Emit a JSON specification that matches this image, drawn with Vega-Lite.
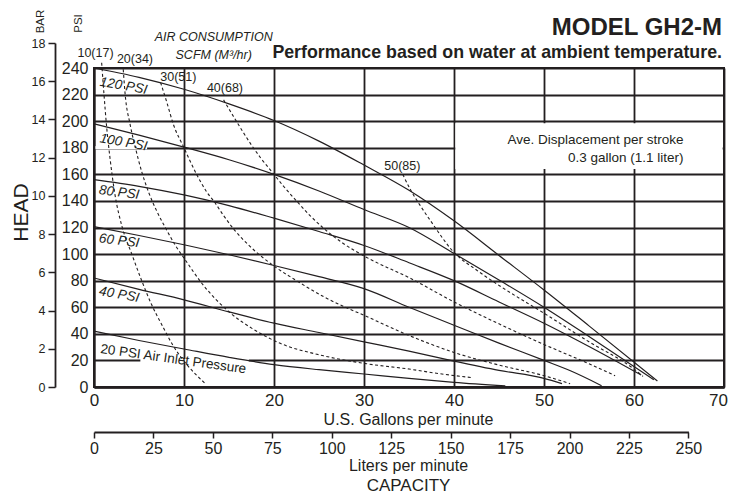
{
  "$schema": "https://vega.github.io/schema/vega-lite/v6.json",
  "width": 630,
  "height": 319,
  "autosize": {"type": "none"},
  "padding": {"left": 94, "top": 68, "right": 8, "bottom": 110},
  "background": "white",
  "title": {
    "text": "MODEL GH2-M",
    "subtitle": "Performance based on water at ambient temperature.",
    "anchor": "end",
    "frame": "group",
    "font": "Liberation Sans",
    "fontSize": 24,
    "fontWeight": "bold",
    "color": "#231f20",
    "subtitleFont": "Liberation Sans",
    "subtitleFontSize": 17.8,
    "subtitleFontWeight": "bold",
    "subtitleColor": "#231f20",
    "subtitlePadding": 4,
    "offset": -53,
    "dx": -2
  },
  "datasets": {
    "performance": [
      {"series": "120 PSI", "gpm": 0, "psi": 240},
      {"series": "120 PSI", "gpm": 5, "psi": 233},
      {"series": "120 PSI", "gpm": 10, "psi": 224},
      {"series": "120 PSI", "gpm": 15, "psi": 213},
      {"series": "120 PSI", "gpm": 20, "psi": 200.5},
      {"series": "120 PSI", "gpm": 25, "psi": 185},
      {"series": "120 PSI", "gpm": 30, "psi": 167},
      {"series": "120 PSI", "gpm": 35, "psi": 148},
      {"series": "120 PSI", "gpm": 40, "psi": 125},
      {"series": "120 PSI", "gpm": 45, "psi": 99},
      {"series": "120 PSI", "gpm": 50, "psi": 73},
      {"series": "120 PSI", "gpm": 55, "psi": 46},
      {"series": "120 PSI", "gpm": 62.6, "psi": 4.5},
      {"series": "100 PSI", "gpm": 0, "psi": 198},
      {"series": "100 PSI", "gpm": 5, "psi": 189.5},
      {"series": "100 PSI", "gpm": 10, "psi": 180.5},
      {"series": "100 PSI", "gpm": 15, "psi": 171},
      {"series": "100 PSI", "gpm": 20, "psi": 160},
      {"series": "100 PSI", "gpm": 25, "psi": 147.5},
      {"series": "100 PSI", "gpm": 30, "psi": 133.5},
      {"series": "100 PSI", "gpm": 35, "psi": 120},
      {"series": "100 PSI", "gpm": 40, "psi": 100.5},
      {"series": "100 PSI", "gpm": 45, "psi": 80.5},
      {"series": "100 PSI", "gpm": 50, "psi": 60},
      {"series": "100 PSI", "gpm": 55, "psi": 38},
      {"series": "100 PSI", "gpm": 62.2, "psi": 5.5},
      {"series": "80 PSI", "gpm": 0, "psi": 156},
      {"series": "80 PSI", "gpm": 5, "psi": 151},
      {"series": "80 PSI", "gpm": 10, "psi": 144.5},
      {"series": "80 PSI", "gpm": 15, "psi": 136.5},
      {"series": "80 PSI", "gpm": 20, "psi": 127},
      {"series": "80 PSI", "gpm": 25, "psi": 117},
      {"series": "80 PSI", "gpm": 30, "psi": 106.5},
      {"series": "80 PSI", "gpm": 35, "psi": 93.5},
      {"series": "80 PSI", "gpm": 40, "psi": 80},
      {"series": "80 PSI", "gpm": 45, "psi": 64},
      {"series": "80 PSI", "gpm": 50, "psi": 48},
      {"series": "80 PSI", "gpm": 55, "psi": 30.5},
      {"series": "80 PSI", "gpm": 60.8, "psi": 9},
      {"series": "60 PSI", "gpm": 0, "psi": 120.6},
      {"series": "60 PSI", "gpm": 5, "psi": 114},
      {"series": "60 PSI", "gpm": 10, "psi": 107},
      {"series": "60 PSI", "gpm": 15, "psi": 99.5},
      {"series": "60 PSI", "gpm": 20, "psi": 91.4},
      {"series": "60 PSI", "gpm": 25, "psi": 83},
      {"series": "60 PSI", "gpm": 30, "psi": 74},
      {"series": "60 PSI", "gpm": 35, "psi": 60},
      {"series": "60 PSI", "gpm": 40, "psi": 46.5},
      {"series": "60 PSI", "gpm": 45, "psi": 33},
      {"series": "60 PSI", "gpm": 50, "psi": 20},
      {"series": "60 PSI", "gpm": 53, "psi": 12},
      {"series": "60 PSI", "gpm": 56.4, "psi": 1},
      {"series": "40 PSI", "gpm": 0, "psi": 82},
      {"series": "40 PSI", "gpm": 5, "psi": 73.5},
      {"series": "40 PSI", "gpm": 10, "psi": 65.6},
      {"series": "40 PSI", "gpm": 15, "psi": 56.5},
      {"series": "40 PSI", "gpm": 20, "psi": 48},
      {"series": "40 PSI", "gpm": 25, "psi": 41},
      {"series": "40 PSI", "gpm": 30, "psi": 34},
      {"series": "40 PSI", "gpm": 35, "psi": 27},
      {"series": "40 PSI", "gpm": 40, "psi": 19.5},
      {"series": "40 PSI", "gpm": 45, "psi": 12.5},
      {"series": "40 PSI", "gpm": 50, "psi": 6.5},
      {"series": "40 PSI", "gpm": 52, "psi": 2.5},
      {"series": "20 PSI", "gpm": 0, "psi": 42},
      {"series": "20 PSI", "gpm": 5, "psi": 35},
      {"series": "20 PSI", "gpm": 10, "psi": 28.6},
      {"series": "20 PSI", "gpm": 15, "psi": 22.3},
      {"series": "20 PSI", "gpm": 20, "psi": 16.8},
      {"series": "20 PSI", "gpm": 25, "psi": 13},
      {"series": "20 PSI", "gpm": 30, "psi": 9.8},
      {"series": "20 PSI", "gpm": 35, "psi": 6.5},
      {"series": "20 PSI", "gpm": 40, "psi": 3.5},
      {"series": "20 PSI", "gpm": 45.7, "psi": 0.8}
    ],
    "air": [
      {"series": "10(17)", "gpm": 0.85, "psi": 244},
      {"series": "10(17)", "gpm": 1.1, "psi": 221},
      {"series": "10(17)", "gpm": 1.4, "psi": 196},
      {"series": "10(17)", "gpm": 1.8, "psi": 171},
      {"series": "10(17)", "gpm": 2.3, "psi": 146},
      {"series": "10(17)", "gpm": 3.1, "psi": 121},
      {"series": "10(17)", "gpm": 4.2, "psi": 100},
      {"series": "10(17)", "gpm": 5.3, "psi": 80},
      {"series": "10(17)", "gpm": 6.4, "psi": 62},
      {"series": "10(17)", "gpm": 7.6, "psi": 46},
      {"series": "10(17)", "gpm": 8.8, "psi": 31},
      {"series": "10(17)", "gpm": 10.3, "psi": 17},
      {"series": "10(17)", "gpm": 12.3, "psi": 3},
      {"series": "20(34)", "gpm": 3.25, "psi": 239},
      {"series": "20(34)", "gpm": 3.45, "psi": 221},
      {"series": "20(34)", "gpm": 4.0, "psi": 198},
      {"series": "20(34)", "gpm": 4.6, "psi": 180},
      {"series": "20(34)", "gpm": 5.3, "psi": 162},
      {"series": "20(34)", "gpm": 6.1, "psi": 146},
      {"series": "20(34)", "gpm": 7.0, "psi": 132},
      {"series": "20(34)", "gpm": 8.0, "psi": 119},
      {"series": "20(34)", "gpm": 9.0, "psi": 107},
      {"series": "20(34)", "gpm": 10.0, "psi": 97},
      {"series": "20(34)", "gpm": 12.1, "psi": 77},
      {"series": "20(34)", "gpm": 15.1, "psi": 56},
      {"series": "20(34)", "gpm": 17.7, "psi": 43.5},
      {"series": "20(34)", "gpm": 20.3, "psi": 34},
      {"series": "20(34)", "gpm": 25.5, "psi": 23.5},
      {"series": "20(34)", "gpm": 30.3, "psi": 17.5},
      {"series": "20(34)", "gpm": 35, "psi": 13.5},
      {"series": "20(34)", "gpm": 38.4, "psi": 10},
      {"series": "20(34)", "gpm": 42.1, "psi": 7},
      {"series": "30(51)", "gpm": 7.4, "psi": 229},
      {"series": "30(51)", "gpm": 8.1, "psi": 214},
      {"series": "30(51)", "gpm": 8.8, "psi": 198},
      {"series": "30(51)", "gpm": 10, "psi": 180},
      {"series": "30(51)", "gpm": 11.4, "psi": 160},
      {"series": "30(51)", "gpm": 12.5, "psi": 147},
      {"series": "30(51)", "gpm": 13.4, "psi": 139},
      {"series": "30(51)", "gpm": 14.4, "psi": 129},
      {"series": "30(51)", "gpm": 15.5, "psi": 119},
      {"series": "30(51)", "gpm": 17.3, "psi": 106},
      {"series": "30(51)", "gpm": 20, "psi": 91},
      {"series": "30(51)", "gpm": 22.5, "psi": 80},
      {"series": "30(51)", "gpm": 25.5, "psi": 68},
      {"series": "30(51)", "gpm": 30.3, "psi": 53},
      {"series": "30(51)", "gpm": 35.1, "psi": 38.5},
      {"series": "30(51)", "gpm": 40, "psi": 26},
      {"series": "30(51)", "gpm": 45, "psi": 16.5},
      {"series": "30(51)", "gpm": 50, "psi": 8.5},
      {"series": "30(51)", "gpm": 52.9, "psi": 2.5},
      {"series": "40(68)", "gpm": 14.4, "psi": 216},
      {"series": "40(68)", "gpm": 15.5, "psi": 203.5},
      {"series": "40(68)", "gpm": 16.5, "psi": 192.5},
      {"series": "40(68)", "gpm": 17.5, "psi": 182},
      {"series": "40(68)", "gpm": 18.5, "psi": 172.5},
      {"series": "40(68)", "gpm": 20, "psi": 160},
      {"series": "40(68)", "gpm": 21, "psi": 151.5},
      {"series": "40(68)", "gpm": 22.5, "psi": 140},
      {"series": "40(68)", "gpm": 24, "psi": 129},
      {"series": "40(68)", "gpm": 25.5, "psi": 119.5},
      {"series": "40(68)", "gpm": 27.7, "psi": 108},
      {"series": "40(68)", "gpm": 30.3, "psi": 97.5},
      {"series": "40(68)", "gpm": 35.1, "psi": 82},
      {"series": "40(68)", "gpm": 40, "psi": 64},
      {"series": "40(68)", "gpm": 45, "psi": 47.5},
      {"series": "40(68)", "gpm": 50, "psi": 32},
      {"series": "40(68)", "gpm": 55, "psi": 17.5},
      {"series": "40(68)", "gpm": 57.9, "psi": 8.5},
      {"series": "50(85)", "gpm": 34.3, "psi": 160},
      {"series": "50(85)", "gpm": 35.2, "psi": 148},
      {"series": "50(85)", "gpm": 36.2, "psi": 137},
      {"series": "50(85)", "gpm": 37.5, "psi": 124},
      {"series": "50(85)", "gpm": 39.9, "psi": 102},
      {"series": "50(85)", "gpm": 42.5, "psi": 88},
      {"series": "50(85)", "gpm": 45.1, "psi": 76},
      {"series": "50(85)", "gpm": 50, "psi": 55.5},
      {"series": "50(85)", "gpm": 55, "psi": 34},
      {"series": "50(85)", "gpm": 60, "psi": 13.5},
      {"series": "50(85)", "gpm": 61, "psi": 8}
    ],
    "pressureLabels": [
      {"label": "120 PSI", "gpm": 3.28, "psi": 226.5},
      {"label": "100 PSI", "gpm": 3.28, "psi": 184},
      {"label": "80 PSI", "gpm": 2.8, "psi": 146.3},
      {"label": "60 PSI", "gpm": 2.8, "psi": 110},
      {"label": "40 PSI", "gpm": 2.8, "psi": 69.5},
      {"label": "20 PSI Air Inlet Pressure", "gpm": 8.81, "psi": 20.9}
    ],
    "airLabels": [
      {"label": "10(17)", "gpm": 0.17, "psi": 251},
      {"label": "20(34)", "gpm": 4.55, "psi": 246.6},
      {"label": "30(51)", "gpm": 9.37, "psi": 233.2},
      {"label": "40(68)", "gpm": 14.55, "psi": 224.8},
      {"label": "50(85)", "gpm": 34.26, "psi": 166.4}
    ],
    "airHeading": [
      {"label": "AIR CONSUMPTION", "gpm": 13.3, "psi": 263.5},
      {"label": "SCFM (M³/hr)", "gpm": 13.3, "psi": 249.5}
    ],
    "notes": [
      {"label": "Ave. Displacement per stroke", "gpm": 65.5, "psi": 185.9},
      {"label": "0.3 gallon (1.1 liter)", "gpm": 65.5, "psi": 172.3}
    ],
    "masks": [
      {"gpm": 40.15, "gpm2": 69.85, "psi": 164, "psi2": 198.5},
      {"gpm": 0.15, "gpm2": 5.9, "psi": 178.9, "psi2": 181.1},
      {"gpm": 5.15, "gpm2": 17.2, "psi": 18.9, "psi2": 21.1}
    ],
    "secondary": [
      {"lpm": 0, "bar": 0},
      {"lpm": 250, "bar": 18}
    ],
    "framing": [
      {"capacity": 0, "head": 0}
    ]
  },
  "layer": [
    {
      "encoding": {
        "x": {
          "field": "gpm",
          "type": "quantitative",
          "scale": {"domain": [0, 70], "nice": false, "zero": false},
          "axis": {
            "orient": "bottom",
            "values": [0, 10, 20, 30, 40, 50, 60, 70],
            "grid": true,
            "gridWidth": 1.8,
            "domainWidth": 2.5,
            "ticks": false,
            "labelPadding": 5,
            "labelFontSize": 17,
            "labelFlush": false,
            "labelOverlap": false,
            "labelBound": false,
            "labelOffset": {"condition": {"test": "datum.value === 70", "value": -6}, "value": 0},
            "title": "U.S. Gallons per minute",
            "titleFontSize": 16,
            "titleBaseline": "alphabetic",
            "titleAlign": "center",
            "titleX": 314,
            "titleY": 37
          }
        },
        "y": {
          "field": "psi",
          "type": "quantitative",
          "scale": {"domain": [0, 240], "nice": false, "zero": false},
          "axis": {
            "orient": "left",
            "values": [0, 20, 40, 60, 80, 100, 120, 140, 160, 180, 200, 220, 240],
            "grid": true,
            "gridWidth": 1.8,
            "domainWidth": 2,
            "ticks": false,
            "labelPadding": 6,
            "labelFontSize": 16,
            "labelOverlap": false,
            "title": "PSI",
            "titleFontSize": 11.5,
            "titleAngle": -90,
            "titleBaseline": "alphabetic",
            "titleAlign": "center",
            "titleX": -12.3,
            "titleY": -45
          }
        }
      },
      "layer": [
        {
          "data": {"name": "masks"},
          "mark": {"type": "rect", "fill": "white", "strokeWidth": 0},
          "encoding": {"x2": {"field": "gpm2"}, "y2": {"field": "psi2"}}
        },
        {
          "data": {"name": "performance"},
          "mark": {"type": "line", "color": "#231f20", "strokeWidth": 1.2, "interpolate": "monotone"},
          "encoding": {"detail": {"field": "series"}}
        },
        {
          "data": {"name": "air"},
          "mark": {"type": "line", "color": "#231f20", "strokeWidth": 1.1, "strokeDash": [3, 2.5], "interpolate": "monotone"},
          "encoding": {"detail": {"field": "series"}}
        },
        {
          "data": {"name": "pressureLabels"},
          "transform": [{"filter": {"field": "label", "oneOf": ["120 PSI", "100 PSI", "40 PSI"]}}],
          "mark": {"type": "text", "fontStyle": "italic", "fontSize": 13.5, "angle": 10, "align": "center", "baseline": "middle", "color": "#231f20"},
          "encoding": {"text": {"field": "label"}}
        },
        {
          "data": {"name": "pressureLabels"},
          "transform": [{"filter": {"field": "label", "oneOf": ["80 PSI", "60 PSI"]}}],
          "mark": {"type": "text", "fontStyle": "italic", "fontSize": 13.5, "angle": 7, "align": "center", "baseline": "middle", "color": "#231f20"},
          "encoding": {"text": {"field": "label"}}
        },
        {
          "data": {"name": "pressureLabels"},
          "transform": [{"filter": {"field": "label", "oneOf": ["20 PSI Air Inlet Pressure"]}}],
          "mark": {"type": "text", "fontSize": 13.5, "angle": 8, "align": "center", "baseline": "middle", "color": "#231f20"},
          "encoding": {"text": {"field": "label"}}
        },
        {
          "data": {"name": "airLabels"},
          "mark": {"type": "text", "fontSize": 12.5, "align": "center", "baseline": "middle", "color": "#231f20"},
          "encoding": {"text": {"field": "label"}}
        },
        {
          "data": {"name": "airHeading"},
          "mark": {"type": "text", "fontSize": 12.5, "fontStyle": "italic", "align": "center", "baseline": "middle", "color": "#231f20"},
          "encoding": {"text": {"field": "label"}}
        },
        {
          "data": {"name": "notes"},
          "mark": {"type": "text", "fontSize": 13.5, "align": "right", "baseline": "middle", "color": "#231f20"},
          "encoding": {"text": {"field": "label"}}
        }
      ]
    },
    {
      "data": {"name": "secondary"},
      "mark": {"type": "point", "opacity": 0},
      "encoding": {
        "x": {
          "field": "lpm",
          "type": "quantitative",
          "scale": {"domain": [0, 250], "range": [0, 594.4], "nice": false, "zero": false},
          "axis": {
            "orient": "bottom",
            "offset": 45,
            "values": [0, 25, 50, 75, 100, 125, 150, 175, 200, 225, 250],
            "grid": false,
            "tickSize": 6,
            "tickWidth": 1.5,
            "domainWidth": 1.8,
            "labelPadding": 2,
            "labelFontSize": 16,
            "labelFlush": false,
            "labelOverlap": false,
            "labelBound": false,
            "title": "Liters per minute",
            "titleFontSize": 16,
            "titleBaseline": "alphabetic",
            "titleAlign": "center",
            "titleX": 314,
            "titleY": 38
          }
        },
        "y": {
          "field": "bar",
          "type": "quantitative",
          "scale": {"domain": [0, 18], "range": [319, -25], "nice": false, "zero": false},
          "axis": {
            "orient": "left",
            "offset": 39,
            "values": [0, 2, 4, 6, 8, 10, 12, 14, 16, 18],
            "grid": false,
            "tickSize": 7,
            "tickWidth": 1.5,
            "domainWidth": 1.8,
            "labelPadding": 3,
            "labelFontSize": 12.5,
            "labelOverlap": false,
            "title": "BAR",
            "titleFontSize": 11.5,
            "titleAngle": -90,
            "titleBaseline": "alphabetic",
            "titleAlign": "center",
            "titleX": -12,
            "titleY": -47
          }
        }
      }
    },
    {
      "data": {"name": "framing"},
      "mark": {"type": "point", "opacity": 0},
      "encoding": {
        "x": {
          "field": "capacity",
          "type": "quantitative",
          "axis": {
            "orient": "bottom",
            "labels": false,
            "ticks": false,
            "domain": false,
            "grid": false,
            "title": "CAPACITY",
            "titleFontSize": 17,
            "titleBaseline": "alphabetic",
            "titleAlign": "center",
            "titleX": 314,
            "titleY": 103
          }
        },
        "y": {
          "field": "head",
          "type": "quantitative",
          "axis": {
            "orient": "left",
            "labels": false,
            "ticks": false,
            "domain": false,
            "grid": false,
            "title": "HEAD",
            "titleFontSize": 21,
            "titleAngle": -90,
            "titleBaseline": "alphabetic",
            "titleAlign": "center",
            "titleX": -67,
            "titleY": 144
          }
        }
      }
    }
  ],
  "resolve": {"scale": {"x": "independent", "y": "independent"}},
  "config": {
    "font": "Liberation Sans",
    "view": {"stroke": "#231f20", "strokeWidth": 2},
    "axis": {
      "labelColor": "#231f20",
      "titleColor": "#231f20",
      "domainColor": "#231f20",
      "tickColor": "#231f20",
      "gridColor": "#231f20",
      "gridOpacity": 1,
      "labelFont": "Liberation Sans",
      "titleFont": "Liberation Sans",
      "titleFontWeight": "normal"
    },
    "text": {"font": "Liberation Sans"}
  }
}
